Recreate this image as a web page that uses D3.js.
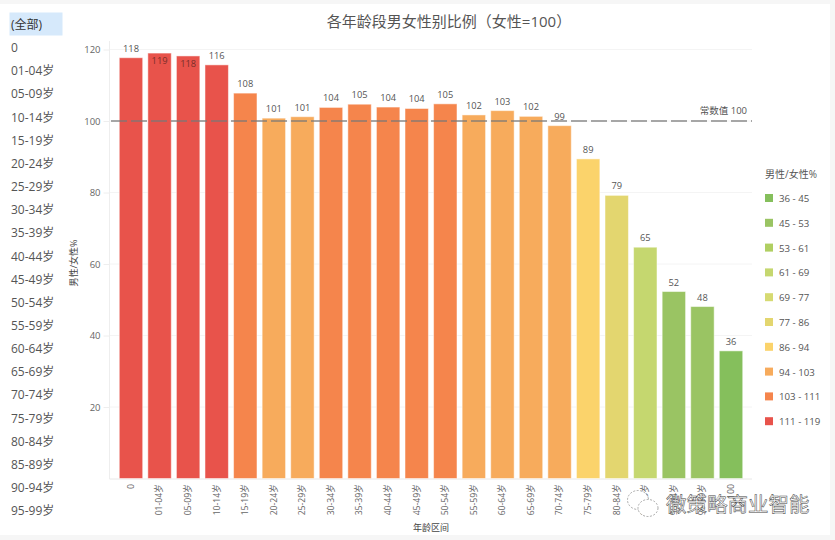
<!DOCTYPE html>
<html>
<head>
<meta charset="utf-8">
<script src="https://cdnjs.cloudflare.com/ajax/libs/d3/7.8.5/d3.min.js"></script>
<style>
  html, body { margin: 0; padding: 0; background: #fff; }
  svg text { font-family: "Open Sans", "Noto Sans CJK SC", sans-serif; }
</style>
</head>
<body>
<svg id="chart" width="835" height="540"></svg>
<script>
// Data
const categories = ["0", "01-04岁", "05-09岁", "10-14岁", "15-19岁", "20-24岁", "25-29岁", "30-34岁",
    "35-39岁", "40-44岁", "45-49岁", "50-54岁", "55-59岁", "60-64岁", "65-69岁", "70-74岁",
    "75-79岁", "80-84岁", "85-89岁", "90-94岁", "95-99岁", "100"];
const values = [117.7, 119, 118.2, 115.7, 107.8, 100.8, 101.2, 103.8, 104.7, 103.9, 103.5, 104.8,
    101.7, 102.9, 101.3, 98.7, 89.4, 79.2, 64.7, 52.3, 48.1, 35.7];
const labels = [118, 119, 118, 116, 108, 101, 101, 104, 105, 104, 104, 105, 102, 103, 102, 99, 89, 79, 65, 52, 48, 36];
const insideLabels = ["01-04岁", "05-09岁"];
const yTicks = [20, 40, 60, 80, 100, 120];
const binStarts = [45, 53, 61, 69, 77, 86, 94, 103, 111];
const legendLabels = ["36 - 45", "45 - 53", "53 - 61", "61 - 69", "69 - 77", "77 - 86", "86 - 94", "94 - 103", "103 - 111", "111 - 119"];
const legendColors = ["#85bf5c", "#9ac463", "#b0cf62", "#c5d76f", "#d6da72", "#e3d66f", "#fbd36b", "#f7ab5c", "#f5854c", "#e8534b"];
const slicerItems = ["(全部)"].concat(categories.slice(0, 21));
const refValue = 100;

// Layout
const svg = d3.select("#chart");

// Page edges: the report sits on a pale grey frame
svg.append("rect").attr("width", 835).attr("height", 540).attr("fill", "#f6f6f6");
svg.append("rect").attr("x", 0).attr("y", 4).attr("width", 830).attr("height", 531).attr("fill", "#fff");

const x = d3.scaleBand()
    .domain(categories)
    .range([116.7, 745.3])
    .paddingInner(0.18)
    .paddingOuter(0.09);

const y = d3.scaleLinear()
    .domain([0, 120])
    .range([478.5, 49.5]);

// Title
svg.append("text")
    .attr("x", 449)
    .attr("y", 27)
    .attr("text-anchor", "middle")
    .attr("font-size", 15)
    .attr("fill", "#555")
    .text("各年龄段男女性别比例（女性=100）");

// Slicer on the left
svg.append("rect")
    .attr("x", 9.5).attr("y", 12.5)
    .attr("width", 53).attr("height", 23)
    .attr("fill", "#d6e9fb");

svg.selectAll(".slicer")
    .data(slicerItems)
  .enter().append("text")
    .attr("class", "slicer")
    .attr("x", 11)
    .attr("y", (d, i) => 29 + i * 23.15)
    .attr("font-size", 12)
    .attr("fill", (d, i) => i === 0 ? "#333" : "#555")
    .text(d => d);

// Grid lines
svg.selectAll(".grid")
    .data(yTicks)
  .enter().append("line")
    .attr("class", "grid")
    .attr("x1", 110).attr("x2", 752)
    .attr("y1", d => y(d)).attr("y2", d => y(d))
    .attr("stroke", "#f4f4f4");

// y axis
const yAxis = svg.append("g")
    .attr("transform", "translate(109.5,0)")
    .call(d3.axisLeft(y).tickValues(yTicks).tickSize(6).tickPadding(3));
yAxis.select(".domain").attr("stroke", "#eee").attr("d", "M0,41V479");
yAxis.selectAll(".tick line").attr("stroke", "#eee");
yAxis.selectAll("text").attr("font-size", 9.5).attr("fill", "#666");

// x axis
const xAxis = svg.append("g")
    .attr("transform", "translate(0,479)")
    .call(d3.axisBottom(x).tickSize(0).tickPadding(0));
xAxis.select(".domain").attr("stroke", "#e8e8e8").attr("d", "M109.5,0H752");
xAxis.selectAll("text")
    .attr("transform", "rotate(-90)")
    .attr("x", -5)
    .attr("y", 0)
    .attr("dy", "0.32em")
    .style("text-anchor", "end")
    .attr("font-size", 8.7)
    .attr("fill", "#666");

// Bars, coloured by legend bin
svg.selectAll(".bar")
    .data(categories)
  .enter().append("rect")
    .attr("class", "bar")
    .attr("x", d => x(d))
    .attr("y", (d, i) => y(values[i]))
    .attr("width", x.bandwidth())
    .attr("height", (d, i) => y(0) - y(values[i]))
    .attr("fill", (d, i) => legendColors[d3.bisectRight(binStarts, values[i])])
    .attr("stroke", "#fff")
    .attr("stroke-opacity", 0.5)
    .attr("stroke-width", 1);

// Value labels
svg.selectAll(".value")
    .data(categories)
  .enter().append("text")
    .attr("class", "value")
    .attr("x", d => x(d) + x.bandwidth() / 2)
    .attr("y", (d, i) => insideLabels.includes(d) ? y(values[i]) + 11 : y(values[i]) - 6)
    .attr("text-anchor", "middle")
    .attr("font-size", 9.3)
    .attr("fill", d => insideLabels.includes(d) ? "#7a2f2a" : "#555")
    .text((d, i) => labels[i]);

// Reference line
svg.append("line")
    .attr("x1", 111).attr("x2", 752)
    .attr("y1", y(refValue)).attr("y2", y(refValue))
    .attr("stroke", "#777")
    .attr("stroke-opacity", 0.85)
    .attr("stroke-width", 1.6)
    .attr("stroke-dasharray", "16,4");

svg.append("text")
    .attr("x", 747)
    .attr("y", y(refValue) - 7)
    .attr("text-anchor", "end")
    .attr("font-size", 9.5)
    .attr("fill", "#555")
    .text("常数值 100");

// Axis titles
svg.append("text")
    .attr("transform", "translate(77,263) rotate(-90)")
    .attr("text-anchor", "middle")
    .attr("font-size", 9)
    .attr("fill", "#444")
    .text("男性/女性%");

svg.append("text")
    .attr("x", 431)
    .attr("y", 531)
    .attr("text-anchor", "middle")
    .attr("font-size", 9)
    .attr("fill", "#444")
    .text("年龄区间");

// Legend
svg.append("text")
    .attr("x", 765)
    .attr("y", 178)
    .attr("font-size", 10)
    .attr("fill", "#555")
    .text("男性/女性%");

const legend = svg.selectAll(".legend")
    .data(legendLabels)
  .enter().append("g")
    .attr("class", "legend")
    .attr("transform", (d, i) => `translate(765,${198 + i * 24.8})`);

legend.append("rect")
    .attr("y", -4)
    .attr("width", 8).attr("height", 8)
    .attr("fill", (d, i) => legendColors[i]);

legend.append("text")
    .attr("x", 14)
    .attr("y", 4)
    .attr("font-size", 9.7)
    .attr("fill", "#555")
    .text(d => d);

// Watermark
const mark = svg.append("g").attr("fill", "none").attr("stroke", "#888").attr("stroke-width", 0.7);
mark.append("ellipse").attr("cx", 638).attr("cy", 500).attr("rx", 10.5).attr("ry", 9.5).attr("fill", "#fff").attr("stroke-dasharray", "2,1.5");
mark.append("ellipse").attr("cx", 648).attr("cy", 508).attr("rx", 10).attr("ry", 8.5).attr("fill", "#fff").attr("stroke-dasharray", "2,1.5");

svg.append("text")
    .attr("x", 666)
    .attr("y", 512)
    .attr("font-size", 20.5)
    .attr("fill", "#fff")
    .attr("stroke", "#444")
    .attr("stroke-width", 0.5)
    .text("微策略商业智能");
</script>
</body>
</html>
